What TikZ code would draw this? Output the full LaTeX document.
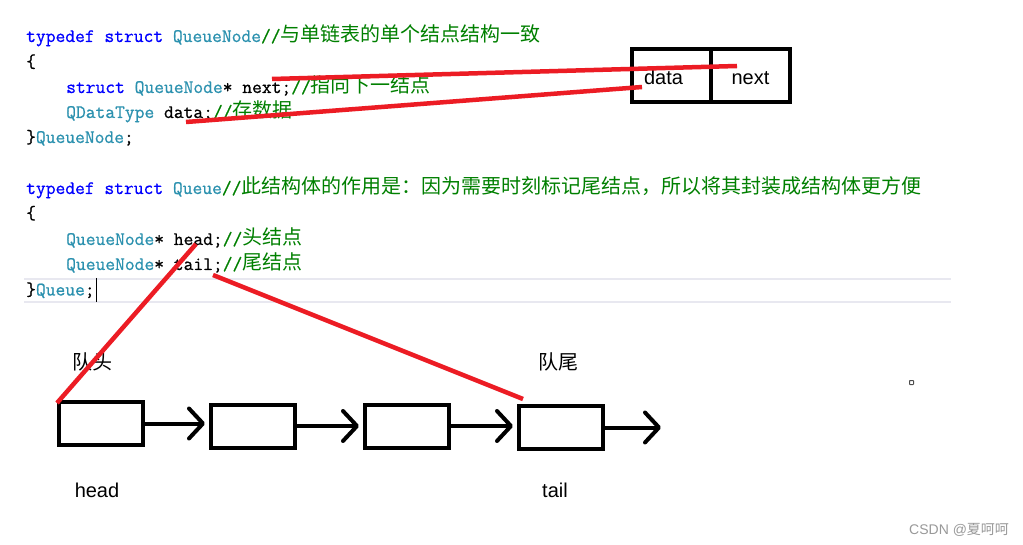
\documentclass[tikz,border=0pt]{standalone}
\usepackage{xcolor}
\usepackage{fontspec}
\setmainfont{Liberation Sans}
\newfontfamily\cjk{Noto Sans CJK SC}
\newfontfamily\codemono{Latin Modern Mono}[FakeBold=0.8]
\usepackage{tikz}
\usetikzlibrary{arrows.meta, positioning}

\definecolor{kwblue}{RGB}{0,0,255}
\definecolor{typeteal}{RGB}{43,145,175}
\definecolor{cmtgreen}{RGB}{0,128,0}
\definecolor{markred}{RGB}{236,28,36}
\definecolor{hlgray}{RGB}{232,232,240}

\newcommand{\codefont}{\codemono\fontsize{19}{19}\selectfont}
\newcommand{\kw}[1]{\textcolor{kwblue}{#1}}
\newcommand{\ty}[1]{\textcolor{typeteal}{#1}}
\newcommand{\cm}[1]{\textcolor{cmtgreen}{//{\cjk\fontsize{20}{20}\selectfont #1}}}

\begin{document}
\begin{tikzpicture}[x=1pt, y=-1pt,
  code/.style={anchor=base west, inner sep=0pt, font=\codefont},
  cell/.style={draw, line width=4pt, minimum width=79pt, minimum height=53pt,
    inner sep=0pt, outer sep=0pt, font=\fontsize{20}{20}\selectfont},
  qbox/.style={draw, line width=4pt, minimum width=84pt, minimum height=43pt,
    inner sep=0pt, outer sep=0pt},
  link/.style={line width=4pt, -{Straight Barb[length=14pt, width=30pt, round]},
    shorten >=6pt},
  redline/.style={draw=markred, line width=4.5pt},
  lbl/.style={inner sep=0pt, font=\fontsize{20}{20}\selectfont}]
  \useasboundingbox (0,0) rectangle (1023,545);
  \fill[white] (0,0) rectangle (1023,545);
  % ---------- CODE ----------
  \draw[hlgray, line width=2pt] (24,279.5) -- (951,279.5);
  \draw[hlgray, line width=2pt] (24,302) -- (951,302);
  \node[code] (l1) at (26,42) {\kw{typedef struct} \ty{QueueNode}\cm{与单链表的单个结点结构一致}};
  \node[code] (l2) at (26,67.5) {\{};
  \node[code] (l3) at (66,93) {\kw{struct} \ty{QueueNode}* next;\cm{指向下一结点}};
  \node[code] (l4) at (66,118) {\ty{QDataType} data;\cm{存数据}};
  \node[code] (l5) at (26,143) {\}\ty{QueueNode};};
  \node[code] (l7) at (26,194) {\kw{typedef struct} \ty{Queue}\cm{此结构体的作用是：因为需要时刻标记尾结点，所以将其封装成结构体更方便}};
  \node[code] (l8) at (26,219) {\{};
  \node[code] (l9) at (66,245) {\ty{QueueNode}* head;\cm{头结点}};
  \node[code] (l10) at (66,270) {\ty{QueueNode}* tail;\cm{尾结点}};
  \node[code] (l11) at (26,295.5) {\}\ty{Queue};};
  \draw[line width=1.2pt] (96.5,278) -- (96.5,302);
  % ---------- NODE LAYOUT ----------
  \node[cell] (data) at (671.5,75.5) {\hspace*{-16pt}\raisebox{-9.5pt}[0pt][0pt]{data}};
  \node[cell, right=0pt of data] (next) {\raisebox{-9.5pt}[0pt][0pt]{next}};
  % ---------- QUEUE ----------
  \node[qbox] (q1) at (101,423.5) {};
  \node[qbox] (q2) at (253,426) {};
  \node[qbox] (q3) at (407,426) {};
  \node[qbox] (q4) at (561,427.5) {};
  \coordinate (qend) at (667,427.5);
  \draw[link] (q1.east) -- (q1.east -| q2.west);
  \draw[link] (q2.east) -- (q2.east -| q3.west);
  \draw[link] (q3.east) -- (q3.east -| q4.west);
  \draw[link] (q4.east) -- (qend);
  \node[lbl] (headcn) at (92,362) {\cjk 队头};
  \node[lbl] (tailcn) at (558,362) {\cjk 队尾};
  \node[lbl] (headen) at (97,490) {head};
  \node[lbl] (tailen) at (555,490) {tail};
  % ---------- RED MARKS ----------
  \coordinate (nextsrc) at (272,79);
  \coordinate (nextdst) at (737,66);
  \coordinate (datasrc) at (186,122);
  \coordinate (datadst) at (642,87);
  \coordinate (headsrc) at (196,244);
  \coordinate (headdst) at (57,403);
  \coordinate (tailsrc) at (213,275);
  \coordinate (taildst) at (523,399);
  \draw[redline] (nextsrc) -- (nextdst);
  \draw[redline] (datasrc) -- (datadst);
  \draw[redline] (headsrc) -- (headdst);
  \draw[redline] (tailsrc) -- (taildst);
  % ---------- MISC ----------
  \draw[black!70, line width=1pt, rounded corners=0.5pt] (909.5,380.5) rectangle ++(4,4);
  \node[anchor=west, inner sep=0pt, text=black!40, font=\fontsize{14}{14}\selectfont]
    (wm) at (909,530) {CSDN @{\cjk 夏呵呵}};
\end{tikzpicture}
\end{document}
